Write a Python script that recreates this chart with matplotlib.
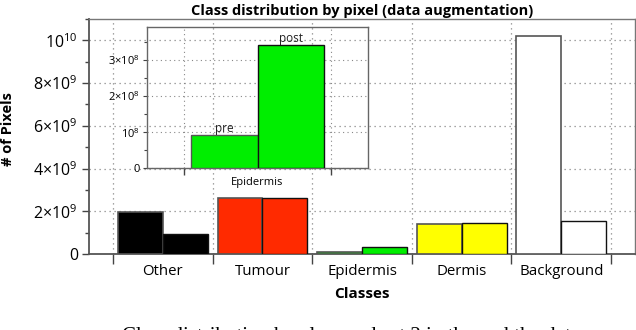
import matplotlib
matplotlib.use("Agg")
import matplotlib.pyplot as plt
import matplotlib.ticker as mticker
import numpy as np

plt.rcParams["font.family"] = ["Open Sans", "DejaVu Sans"]
plt.rcParams["mathtext.fontset"] = "custom"
plt.rcParams["mathtext.rm"] = "Open Sans"
plt.rcParams["mathtext.default"] = "regular"

# dados
classes = ["Other", "Tumour", "Epidermis", "Dermis", "Background"]
pre = [1.95e9, 2.61e9, 0.091e9, 1.41e9, 10.22e9]
post = [0.94e9, 2.64e9, 0.341e9, 1.44e9, 1.53e9]
cores = ["#000000", "#ff2a00", "#00ee00", "#ffff00", "#ffffff"]

inset_cls = "Epidermis"
inset_pre = 0.91e8
inset_post = 3.41e8


def fmt_pot(v, pos):
    if v <= 0:
        return "0"
    exp = int(np.floor(np.log10(v) + 1e-9))
    mant = v / 10 ** exp
    if abs(mant - 1) < 1e-6:
        return r"$10^{%d}$" % exp
    return r"$%d{\times}10^{%d}$" % (round(mant), exp)


fig = plt.figure(figsize=(6.36, 3.30), dpi=100, facecolor="white")
ax = fig.add_axes([0.14, 0.2303, 0.8585, 0.7121])

x = np.arange(len(classes))
w = 0.45
ax.bar(x - w / 2, pre, width=w, color=cores, edgecolor="#555555", linewidth=1.2, zorder=3)
ax.bar(x + w / 2, post, width=w, color=cores, edgecolor="#111111", linewidth=1.0, zorder=3)

ax.set_xlim(-0.74, 4.74)
ax.set_ylim(0, 1.1e10)
ax.xaxis.set_major_locator(mticker.FixedLocator(np.arange(-0.5, 5, 1)))
ax.xaxis.set_major_formatter(mticker.NullFormatter())
ax.xaxis.set_minor_locator(mticker.FixedLocator(x))
ax.xaxis.set_minor_formatter(mticker.FixedFormatter(classes))
ax.tick_params(axis="x", which="major", length=7, width=1, color="#444444")
ax.tick_params(axis="x", which="minor", length=0, labelsize=10.8, pad=7)
ax.yaxis.set_major_locator(mticker.MultipleLocator(2e9))
ax.yaxis.set_minor_locator(mticker.MultipleLocator(1e9))
ax.yaxis.set_major_formatter(mticker.FuncFormatter(fmt_pot))
ax.tick_params(axis="y", which="major", length=5, width=1, color="#444444", labelsize=11.5, pad=3)
ax.tick_params(axis="y", which="minor", length=3, width=1, color="#444444")
ax.grid(True, which="major", linestyle=(0, (1, 3)), color="#888888", linewidth=0.9, zorder=0)
for lado in ["left", "bottom"]:
    ax.spines[lado].set_color("#555555")
    ax.spines[lado].set_linewidth(1.3)
for lado in ["top", "right"]:
    ax.spines[lado].set_color("#777777")
    ax.spines[lado].set_linewidth(1.0)

ax.set_title("Class distribution by pixel (data augmentation)", fontsize=10.5, fontweight="bold", pad=3)
ax.set_xlabel("Classes", fontsize=11, fontweight="bold", labelpad=6)
ax.set_ylabel("# of Pixels", fontsize=10.5, fontweight="bold")
ax.yaxis.set_label_coords(-0.135, 0.53)

# inset da epiderme
axi = fig.add_axes([0.2307, 0.49, 0.3484, 0.4273])
axi.patch.set_alpha(0)
axi.bar([-w / 2], [inset_pre], width=w, color="#00ee00", edgecolor="#555555", linewidth=1.0, zorder=3)
axi.bar([w / 2], [inset_post], width=w, color="#00ee00", edgecolor="#111111", linewidth=1.0, zorder=3)
axi.text(-w / 2, inset_pre, "pre", ha="center", va="bottom", fontsize=8.5, color="#222222")
axi.text(w / 2, inset_post, "post", ha="center", va="bottom", fontsize=8.5, color="#222222")
axi.set_xlim(-0.75, 0.75)
axi.set_ylim(0, 3.9e8)
axi.xaxis.set_major_locator(mticker.FixedLocator([-0.5, 0.5]))
axi.xaxis.set_major_formatter(mticker.NullFormatter())
axi.xaxis.set_minor_locator(mticker.FixedLocator([0]))
axi.xaxis.set_minor_formatter(mticker.FixedFormatter([inset_cls]))
axi.tick_params(axis="x", which="major", length=5, width=1, color="#444444")
axi.tick_params(axis="x", which="minor", length=0, labelsize=8, pad=6)
axi.yaxis.set_major_locator(mticker.MultipleLocator(1e8))
axi.yaxis.set_minor_locator(mticker.MultipleLocator(0.5e8))
axi.yaxis.set_major_formatter(mticker.FuncFormatter(fmt_pot))
axi.tick_params(axis="y", which="major", length=3, width=0.8, color="#444444", labelsize=8, pad=2)
axi.tick_params(axis="y", which="minor", length=2, width=0.8, color="#444444")
axi.grid(True, which="major", linestyle=(0, (1, 3)), color="#888888", linewidth=0.8, zorder=0)
for lado in axi.spines:
    axi.spines[lado].set_color("#666666")
    axi.spines[lado].set_linewidth(1.0)

# legenda da figura, cortada na borda de baixo como no original
fig.text(0.192, 0.008, "Class distribution by class and set 2 in the and the data",
         fontsize=15, family=["Liberation Serif", "DejaVu Serif"], va="top", ha="left")

fig.savefig("out.png", dpi=100)
